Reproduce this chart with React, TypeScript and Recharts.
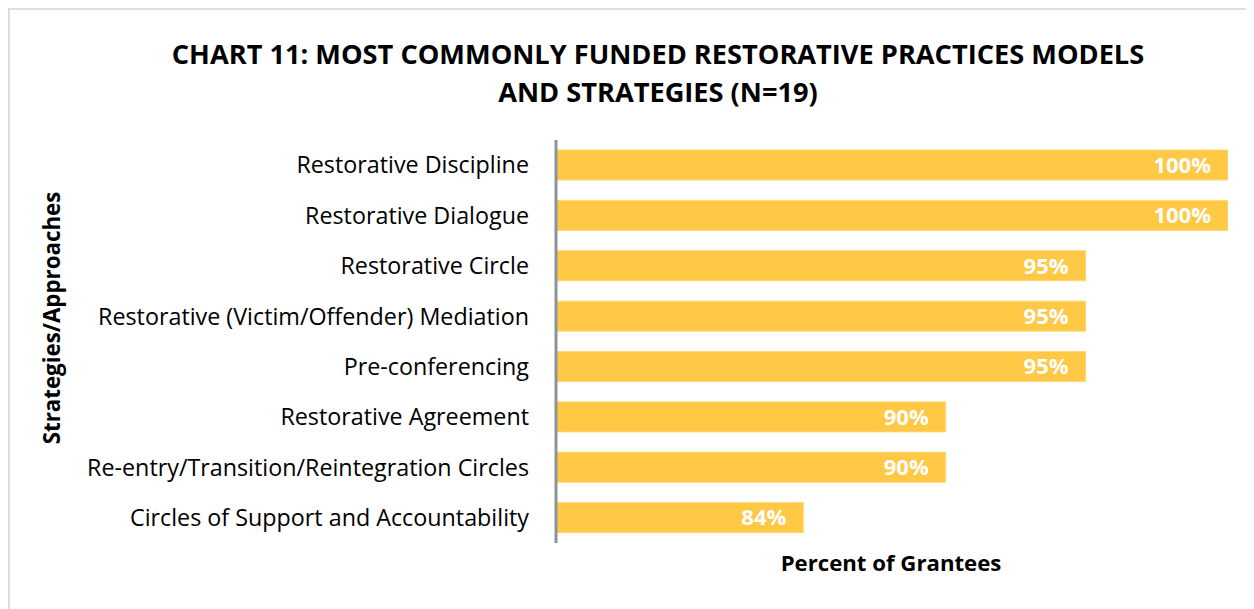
import React from "react";
import { BarChart, Bar, XAxis, YAxis, LabelList } from "recharts";

const categories = [
  "Restorative Discipline",
  "Restorative Dialogue",
  "Restorative Circle",
  "Restorative (Victim/Offender) Mediation",
  "Pre-conferencing",
  "Restorative Agreement",
  "Re-entry/Transition/Reintegration Circles",
  "Circles of Support and Accountability",
];
const percentValues = [100, 100, 94.7, 94.7, 94.7, 89.5, 89.5, 84.2];
const valueLabels = ["100%", "100%", "95%", "95%", "95%", "90%", "90%", "84%"];
const xDomain: [number, number] = [75, 100];

const data = categories.map((name, i) => ({
  name,
  value: percentValues[i],
  label: valueLabels[i],
}));

const FONT = "'Open Sans', Lato, sans-serif";

export default function App() {
  return (
    <div
      style={{
        position: "relative",
        width: 1246,
        height: 601,
        boxSizing: "border-box",
        borderTop: "2px solid #d9dde1",
        borderLeft: "2px solid #d9dde1",
        fontFamily: FONT,
        background: "#fff",
        overflow: "hidden",
      }}
    >
      <div
        style={{
          position: "absolute",
          left: 0,
          top: 25,
          width: 1296,
          textAlign: "center",
          fontWeight: 700,
          fontSize: 27.2,
          lineHeight: "38px",
          color: "#000",
        }}
      >
        CHART 11: MOST COMMONLY FUNDED RESTORATIVE PRACTICES MODELS
        <br />
        AND STRATEGIES (N=19)
      </div>
      <div
        style={{
          position: "absolute",
          left: 43 - 10 - 150 + 9,
          top: 318 - 10 - 12,
          width: 300,
          height: 24,
          lineHeight: "24px",
          textAlign: "center",
          transform: "rotate(-90deg)",
          fontWeight: 700,
          fontSize: 22.3,
          color: "#000",
        }}
      >
        Strategies/Approaches
      </div>
      <div
        style={{
          position: "absolute",
          left: 891 - 10 - 200,
          top: 564 - 10 - 13,
          width: 400,
          height: 24,
          lineHeight: "24px",
          textAlign: "center",
          fontWeight: 700,
          fontSize: 22.2,
          color: "#000",
        }}
      >
        Percent of Grantees
      </div>
      <BarChart
        width={1244}
        height={599}
        data={data}
        layout="vertical"
        margin={{ top: 130, right: 26, bottom: 0, left: 0 }}
        barSize={30}
      >
        <XAxis
          type="number"
          domain={xDomain}
          allowDataOverflow
          tick={false}
          tickLine={false}
          axisLine={false}
          height={66}
        />
        <YAxis
          type="category"
          dataKey="name"
          width={546}
          tickLine={false}
          tickSize={0}
          tickMargin={27}
          axisLine={{ stroke: "#8c949c", strokeWidth: 3 }}
          tick={{ fill: "#000", fontSize: 23.3, fontFamily: FONT }}
          interval={0}
        />
        <Bar
          dataKey="value"
          fill="#FFC845"
          stroke="#FFD873"
          strokeWidth={1}
          isAnimationActive={false}
        >
          <LabelList
            dataKey="label"
            position="insideRight"
            offset={17}
            fill="#fff"
            fontSize={22}
            fontWeight={700}
            fontFamily={FONT}
          />
        </Bar>
      </BarChart>
    </div>
  );
}
